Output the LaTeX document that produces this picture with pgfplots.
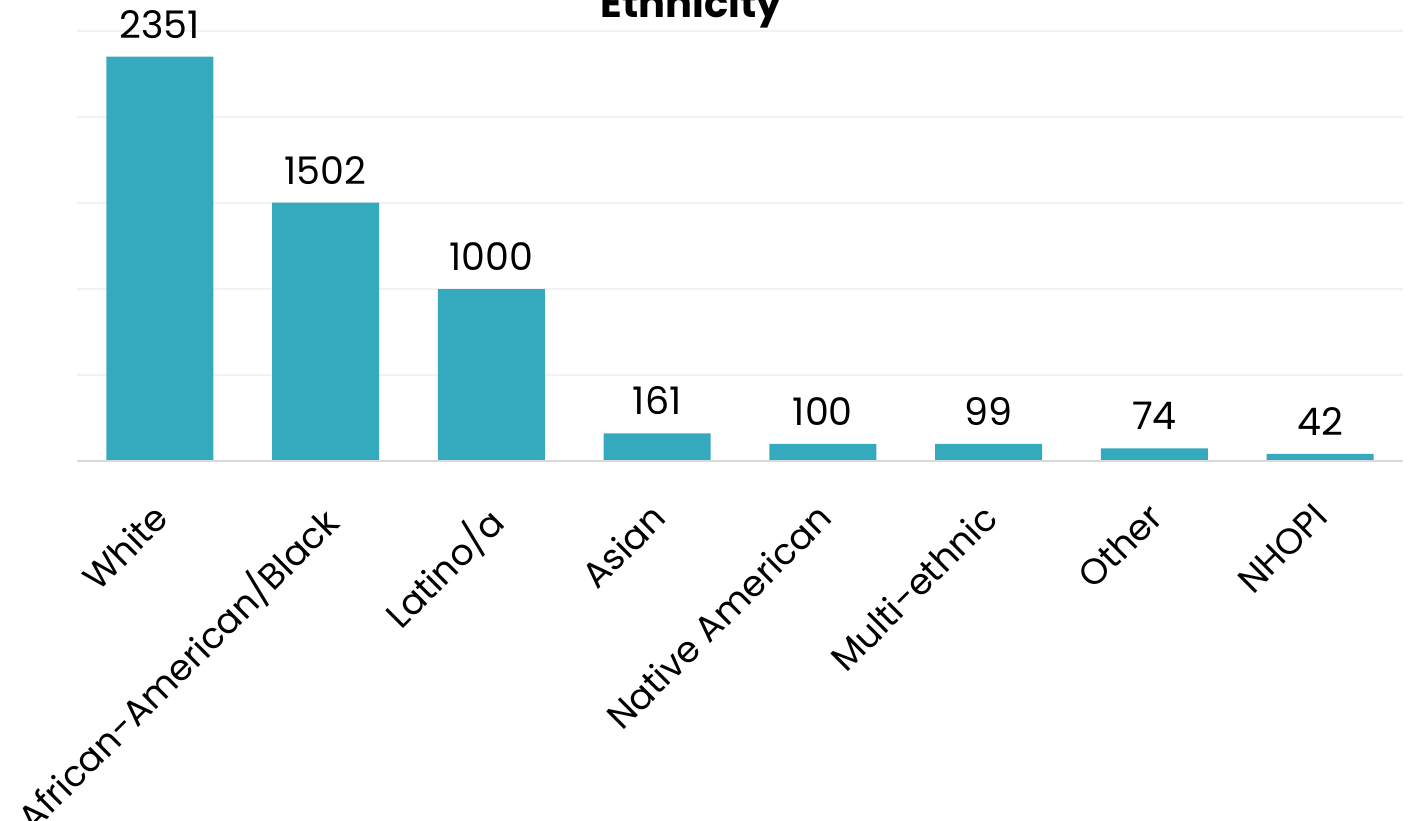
\documentclass[border=0pt]{standalone}
\usepackage{pgfplots}
\pgfplotsset{compat=1.18}
\usepackage{fontspec}
\setmainfont{Poppins}
\definecolor{barc}{RGB}{53,170,190}
\definecolor{gridc}{RGB}{242,242,242}
\definecolor{axc}{RGB}{217,217,217}
\begin{document}
\begin{tikzpicture}
\path[use as bounding box] (-38.5pt,-179.5pt) rectangle (669.5pt,230.5pt);
\begin{axis}[
  at={(0,0)}, anchor=south west,
  scale only axis, width=663pt, height=215pt,
  xmin=-0.5, xmax=7.5, ymin=0, ymax=2500,
  ytick={0,500,1000,1500,2000,2500},
  yticklabels={},
  ymajorgrids, grid style={gridc, line width=0.8pt},
  axis line style={draw=none},
  axis x line*=bottom,
  xtick=data,
  xticklabels={White,African-American/Black,Latino/a,Asian,Native American,Multi-ethnic,Other,NHOPI},
  xticklabel style={rotate=45, anchor=north east, font=\fontsize{18}{22}\selectfont, inner sep=0pt, xshift=-17pt, yshift=-11pt},
  major tick length=0pt,
  ybar, bar width=53.5pt,
  nodes near coords,
  /pgf/number format/.cd, 1000 sep={}, assume math mode=true, /pgfplots/.cd,
  every node near coord/.append style={font=\fontsize{19}{22}\selectfont, anchor=south, inner sep=0pt, yshift=9pt, text=black},
  clip=false,
]
\addplot[fill=barc, draw=none] coordinates {(0,2351) (1,1502) (2,1000) (3,161) (4,100) (5,99) (6,74) (7,42)};
\draw[axc, line width=1pt] (axis cs:-0.5,0) -- (axis cs:7.5,0);
\end{axis}
\node[anchor=base, font=\fontsize{20}{24}\selectfont\bfseries, inner sep=0pt] at (307pt,221.5pt) {Ethnicity};
\end{tikzpicture}
\end{document}
